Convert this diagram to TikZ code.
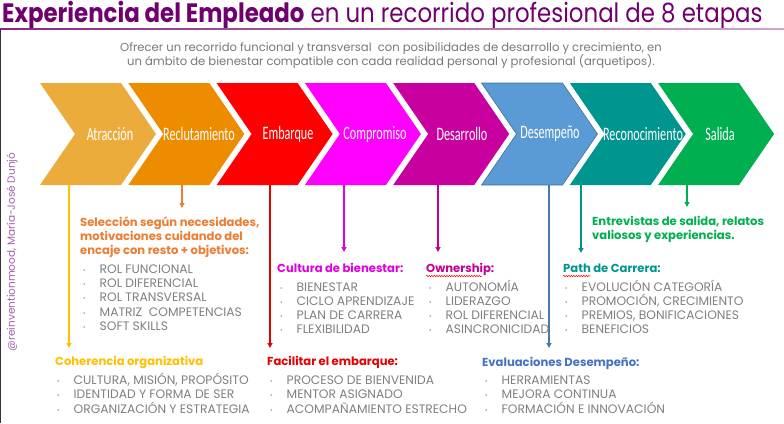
\documentclass[tikz,border=0pt]{standalone}
\usepackage{fontspec}
\setmainfont{Poppins}
\newfontfamily\titlefont[FakeStretch=0.86]{Poppins}
\newfontfamily\condfont[FakeStretch=0.64]{Carlito}
\usetikzlibrary{arrows.meta,decorations.pathmorphing}
\definecolor{titlecol}{RGB}{112,0,112}
\definecolor{subgray}{RGB}{120,120,120}
\definecolor{itemgray}{RGB}{128,128,128}
\definecolor{authorcol}{RGB}{165,95,175}
\definecolor{cA}{RGB}{236,172,60}
\definecolor{cB}{RGB}{238,140,0}
\definecolor{cC}{RGB}{255,0,0}
\definecolor{cD}{RGB}{255,0,255}
\definecolor{cE}{RGB}{200,0,160}
\definecolor{cF}{RGB}{91,155,213}
\definecolor{cFb}{RGB}{65,113,156}
\definecolor{cG}{RGB}{0,150,143}
\definecolor{cH}{RGB}{0,176,80}
\definecolor{hA}{RGB}{255,192,0}
\definecolor{hB}{RGB}{237,125,49}
\definecolor{hC}{RGB}{230,0,0}
\definecolor{hD}{RGB}{225,0,225}
\definecolor{hE}{RGB}{195,0,150}
\definecolor{hF}{RGB}{68,114,196}
\definecolor{hG}{RGB}{0,150,143}
\definecolor{hH}{RGB}{0,176,80}
\newcommand\chevron[2]{\fill[#2] (#1,83) -- ++(81,0) -- ++(35,51) -- ++(-35,51) -- ++(-81,0) -- ++(35,-51) -- cycle;}
\newcommand\bl[5]{\node[item] (#1) at (#2,#3) {\makebox[16.5pt][l]{\raisebox{1pt}{\fontsize{6}{6}\selectfont•}}#4};}
\begin{document}
\begin{tikzpicture}[x=1pt,y=-1pt,
  chevlabel/.style={text=white,font=\condfont\fontsize{19}{19}\selectfont,inner sep=0},
  head/.style={anchor=base west,inner sep=0,font=\bfseries\fontsize{11.6}{14}\selectfont},
  item/.style={anchor=base west,inner sep=0,text=itemgray,font=\fontsize{12.3}{13}\selectfont},
  conn/.style={line width=1.3pt},
  arr/.style={conn,-{Triangle[length=5pt,width=5pt]}},
  squig/.style={red,line width=0.5pt,decorate,decoration={snake,amplitude=0.7pt,segment length=2.5pt}}]
\useasboundingbox (0,0) rectangle (784,423);
\fill[white] (0,0) rectangle (784,423);
% title
\node[anchor=base west,inner sep=0,text=titlecol,font=\titlefont\fontsize{26.6}{30}\selectfont] (title) at (2,23) {\textbf{Experiencia del Empleado} en un recorrido profesional de 8 etapas};
\shade[left color=titlecol!85,right color=titlecol!35] (0,28.4) rectangle (784,29.8);
\draw[line width=1.2pt,black!80] (0.6,29) -- (0.6,423);
\node[inner sep=0,text=subgray,font=\fontsize{11.6}{11}\selectfont,anchor=base] (sub1) at (391,51) {Ofrecer un recorrido funcional y transversal\ \ con posibilidades de desarrollo y crecimiento, en};
\node[inner sep=0,text=subgray,font=\fontsize{11.6}{11}\selectfont,anchor=base] (sub2) at (391,65) {un ámbito de bienestar compatible con cada realidad personal y profesional (arquetipos).};
\node[rotate=90,inner sep=0,text=authorcol,font=\fontsize{10.5}{11}\selectfont] (author) at (12,252) {@reinventionmood, María-José Dunjó};
% chevrons
\chevron{40}{cA}
\chevron{128.3}{cB}
\chevron{216.6}{cC}
\chevron{304.9}{cD}
\chevron{393.2}{cE}
\chevron{481.5}{cF}
\draw[cFb,line width=0.6pt] (481.5,83) -- ++(81,0) -- ++(35,51) -- ++(-35,51) -- ++(-81,0) -- ++(35,-51) -- cycle;
\chevron{569.8}{cG}
\chevron{658.1}{cH}
\node[chevlabel] (n1) at (110,134) {Atracción};
\node[chevlabel] (n2) at (199,134) {Reclutamiento};
\node[chevlabel] (n3) at (288,134) {Embarque};
\node[chevlabel] (n4) at (375,134) {Compromiso};
\node[chevlabel] (n5) at (462,134) {Desarrollo};
\node[chevlabel] (n6) at (550,134) {Desempeño};
\node[chevlabel] (n7) at (643,134) {Reconocimiento};
\node[chevlabel] (n8) at (720,134) {Salida};
% connector coordinates
\coordinate (s1) at (69,185);  \coordinate (e1) at (69,348);
\coordinate (s2) at (182,185); \coordinate (e2) at (182,208);
\coordinate (s3) at (270,185); \coordinate (e3) at (270,348);
\coordinate (s4) at (344,185); \coordinate (e4) at (344,252);
\coordinate (s5) at (438,185); \coordinate (e5) at (438,252);
\coordinate (s6) at (549,185); \coordinate (e6) at (549,348);
\coordinate (s7) at (581,185); \coordinate (e7) at (581,253);
\coordinate (s8) at (687,185); \coordinate (e8) at (687,207);
\draw[arr,hA] (s1) -- (e1);
\draw[arr,hB] (s2) -- (e2);
\draw[arr,hC] (s3) -- (e3);
\draw[arr,hD] (s4) -- (e4);
\draw[arr,hE] (s5) -- (e5);
\draw[arr,cFb!80!cF] (s6) -- (e6);
\draw[arr,hG] (s7) -- (e7);
\draw[arr,hH] (s8) -- (e8);
% Reclutamiento
\node[head,text=hB] (hb1) at (80,226.5) {Selección según necesidades,};
\node[head,text=hB] (hb2) at (80,240) {motivaciones cuidando del};
\node[head,text=hB] (hb3) at (80,254) {encaje con resto + objetivos:};
\bl{b1}{83}{273.5}{ROL FUNCIONAL}{}
\bl{b2}{83}{287.5}{ROL DIFERENCIAL}{}
\bl{b3}{83}{301.5}{ROL TRANSVERSAL}{}
\bl{b4}{83}{316}{MATRIZ\ \ COMPETENCIAS}{}
\bl{b5}{83}{330.5}{SOFT SKILLS}{}
% Coherencia
\node[head,text=hA] (ha) at (55,365.5) {Coherencia organizativa};
\bl{a1}{57}{384.5}{CULTURA, MISIÓN, PROPÓSITO}{}
\bl{a2}{57}{398.5}{IDENTIDAD Y FORMA DE SER}{}
\bl{a3}{57}{413}{ORGANIZACIÓN Y ESTRATEGIA}{}
% Facilitar
\node[head,text=hC] (hc) at (267,365.5) {Facilitar el embarque:};
\bl{c1}{270}{384.5}{PROCESO DE BIENVENIDA}{}
\bl{c2}{270}{398.5}{MENTOR ASIGNADO}{}
\bl{c3}{270}{413}{ACOMPAÑAMIENTO ESTRECHO}{}
% Cultura
\node[head,text=hD] (hd) at (277,272.5) {Cultura de bienestar:};
\bl{d1}{280}{291.5}{BIENESTAR}{}
\bl{d2}{280}{305.5}{CICLO APRENDIZAJE}{}
\bl{d3}{280}{319.5}{PLAN DE CARRERA}{}
\bl{d4}{280}{333.5}{FLEXIBILIDAD}{}
% Ownership
\node[head,text=hE] (he) at (426,272.5) {Ownership:};
\draw[squig] (426,276) -- (482,276);
\bl{e1t}{429}{291.5}{AUTONOMÍA}{}
\bl{e2t}{429}{305.5}{LIDERAZGO}{}
\bl{e3t}{429}{319.5}{ROL DIFERENCIAL}{}
\bl{e4t}{429}{333.5}{ASINCRONICIDAD}{}
% Evaluaciones
\node[head,text=hF] (hf) at (482,366.5) {Evaluaciones Desempeño:};
\bl{f1}{485}{384.5}{HERRAMIENTAS}{}
\bl{f2}{485}{398.5}{MEJORA CONTINUA}{}
\bl{f3}{485}{413}{FORMACIÓN E INNOVACIÓN}{}
% Path
\node[head,text=hG] (hg) at (563,272.5) {Path de Carrera:};
\draw[squig] (563,276) -- (590,276);
\bl{g1}{565}{291.5}{EVOLUCIÓN CATEGORÍA}{}
\bl{g2}{565}{305.5}{PROMOCIÓN, CRECIMIENTO}{}
\bl{g3}{565}{319.5}{PREMIOS, BONIFICACIONES}{}
\bl{g4}{565}{333.5}{BENEFICIOS}{}
% Salida
\node[head,text=hH] (hh1) at (592,225.5) {Entrevistas de salida, relatos};
\node[head,text=hH] (hh2) at (592,239) {valiosos y experiencias.};
\end{tikzpicture}
\end{document}
